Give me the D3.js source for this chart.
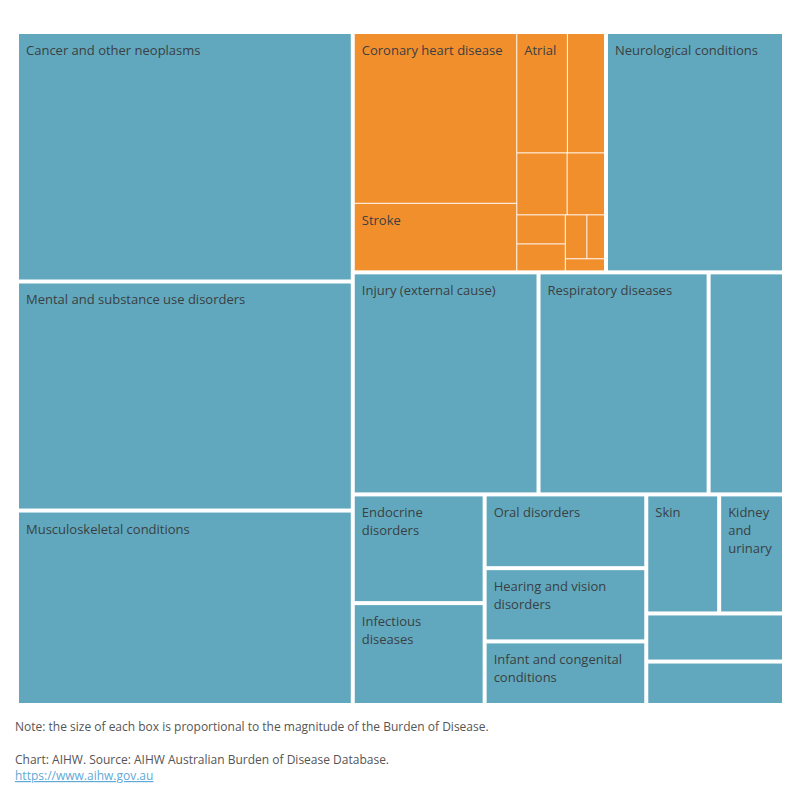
<!DOCTYPE html>
<html>
<head>
<meta charset="utf-8">
<script src="https://cdn.jsdelivr.net/npm/d3@7"></script>
<style>
  body { margin: 0; background: #fff; }
  svg { display: block; font-family: "Open Sans", Lato, sans-serif; }
  .label { font-size: 13px; fill: #3a3f42; }
  .note { font-size: 12px; fill: #555; }
  .link { font-size: 12px; fill: #5fa9d6; text-decoration: underline; }
</style>
</head>
<body>
<div id="chart"></div>
<script>
(function () {

	// disease groups, biggest first
	var groups = ["Cancer and other neoplasms", "Mental and substance use disorders", "Musculoskeletal conditions",
		"Cardiovascular diseases", "Neurological conditions", "Injury (external cause)", "Respiratory diseases",
		"Gastrointestinal disorders", "Endocrine disorders", "Infectious diseases", "Oral disorders",
		"Hearing and vision disorders", "Infant and congenital conditions", "Skin", "Kidney and urinary",
		"Reproductive and maternal conditions", "Blood and metabolic disorders"];
	var groupBurden = [811.8, 745.3, 632.7, null, 414.6, 399.7, 366.0, 162.2, 138.9, 130.2,
		115.5, 114.7, 99.6, 84.1, 74.8, 64.2, 58.0];

	// the orange box is split by cause
	var cvdCauses = ["Coronary heart disease", "Stroke", "Atrial fibrillation and flutter",
		"Other cardiovascular conditions", "Cardiomyopathy", "Peripheral vascular disease",
		"Non-rheumatic valvular disease", "Hypertensive heart disease", "Aortic aneurysm",
		"Rheumatic heart disease", "Inflammatory heart disease"];
	var cvdBurden = [274, 109, 60, 44, 31, 23, 14, 13, 9.4, 7.7, 4.7];

	var highlight = "Cardiovascular diseases";

	// how many boxes go in each strip (tableau packs them this way)
	var rowCounts = {
		root: [3, 2, 3, 2, 3, 2, 2],
		"Cardiovascular diseases": [2, 2, 2, 2, 2, 1]
	};

	var margin = {top: 34, left: 19},
		width = 763,
		height = 669;

	var svg = d3.select("#chart")
		.append("svg")
		.attr("width", 800)
		.attr("height", 800);

	var g = svg.append("g")
		.attr("transform", "translate(" + margin.left + "," + margin.top + ")");

	var data = {
		name: "root",
		children: groups.map(function (name, i) {
			if (name === highlight) {
				return {name: name, children: cvdCauses.map(function (c, j) {
					return {name: c, value: cvdBurden[j]};
				})};
			}
			return {name: name, value: groupBurden[i]};
		})
	};

	function stripTile(parent, x0, y0, x1, y1) {
		var counts = rowCounts[parent.data.name] || [parent.children.length];
		var value = parent.value, i0 = 0;
		counts.forEach(function (c) {
			var kids = parent.children.slice(i0, i0 + c);
			var row = {value: d3.sum(kids, function (d) { return d.value; }), children: kids};
			var dx = x1 - x0, dy = y1 - y0;
			if (dx < dy) {
				var yy = y0 + dy * row.value / value;
				d3.treemapDice(row, x0, y0, x1, yy);
				y0 = yy;
			} else {
				var xx = x0 + dx * row.value / value;
				d3.treemapSlice(row, x0, y0, xx, y1);
				x0 = xx;
			}
			value -= row.value;
			i0 += c;
		});
	}

	var root = d3.hierarchy(data)
		.sum(function (d) { return d.value || 0; })
		.sort(function (a, b) { return b.value - a.value; });

	d3.treemap()
		.tile(stripTile)
		.size([width, height])
		.paddingInner(function (d) { return d.depth === 0 ? 4 : 1; })(root);

	var color = d3.scaleOrdinal()
		.domain(["other", "highlight"])
		.range(["#61a8be", "#f28f2d"]);

	var cell = g.selectAll(".cell")
		.data(root.leaves())
		.enter().append("g")
		.attr("class", "cell")
		.attr("transform", function (d) { return "translate(" + d.x0 + "," + d.y0 + ")"; });

	cell.append("rect")
		.attr("width", function (d) { return d.x1 - d.x0; })
		.attr("height", function (d) { return d.y1 - d.y0; })
		.attr("fill", function (d) {
			var top = d.depth === 1 ? d : d.parent;
			return color(top.data.name === highlight ? "highlight" : "other");
		});

	// labels: wrap words, stop at a word that won't fit
	cell.each(function (d) {
		var w = d.x1 - d.x0, h = d.y1 - d.y0;
		if (h < 55) return;
		var maxW = w - 14;
		var text = d3.select(this).append("text")
			.attr("class", "label")
			.attr("x", 7)
			.attr("y", 21);
		var words = d.data.name.split(" ");
		var lineNo = 0, line = [];
		var tspan = text.append("tspan").attr("x", 7).attr("dy", 0);
		for (var i = 0; i < words.length; i++) {
			line.push(words[i]);
			tspan.text(line.join(" "));
			if (tspan.node().getComputedTextLength() > maxW) {
				line.pop();
				if (line.length === 0) { tspan.remove(); break; }
				tspan.text(line.join(" "));
				if (21 + (lineNo + 1) * 18 > h - 4) break;
				lineNo++;
				line = [words[i]];
				tspan = text.append("tspan").attr("x", 7).attr("dy", 18).text(words[i]);
				if (tspan.node().getComputedTextLength() > maxW) { tspan.remove(); break; }
			}
		}
	});

	svg.append("text")
		.attr("class", "note")
		.attr("x", 15)
		.attr("y", 731)
		.text("Note: the size of each box is proportional to the magnitude of the Burden of Disease.");

	svg.append("text")
		.attr("class", "note")
		.attr("x", 15)
		.attr("y", 764)
		.text("Chart: AIHW. Source: AIHW Australian Burden of Disease Database.");

	svg.append("text")
		.attr("class", "link")
		.attr("x", 15)
		.attr("y", 780)
		.text("https://www.aihw.gov.au");

})();
</script>
</body>
</html>
